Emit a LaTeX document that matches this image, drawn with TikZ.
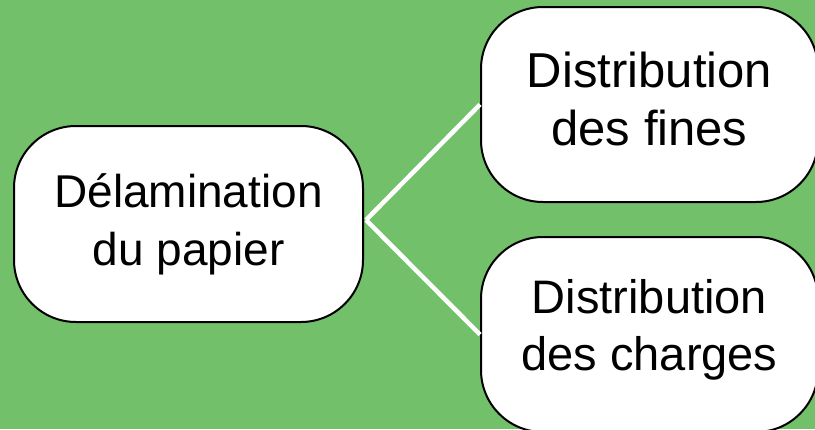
\documentclass[tikz,border=0pt]{standalone}
\usepackage{fontspec}
\setmainfont{Liberation Sans}
\definecolor{bggreen}{RGB}{115,192,106}
\begin{document}
\begin{tikzpicture}[x=1pt,y=-1pt,
  topic/.style={draw=black, line width=2pt, fill=white, rounded corners=62pt,
    inner sep=0pt, align=center},
  link/.style={draw=white, line width=4.5pt}]
\fill[bggreen] (0,0) rectangle (815,429);
\useasboundingbox (0,0) rectangle (815,429);
\node[topic, minimum width=349pt, minimum height=196pt, font=\fontsize{46}{58}\selectfont] (L) at (188.5,224) {Délamination\\du papier};
\node[topic, minimum width=337pt, minimum height=195pt, text depth=12pt, font=\fontsize{49}{58}\selectfont] (T) at (649.5,104.5) {Distribution\\des fines};
\node[topic, minimum width=337pt, minimum height=195pt, text depth=20pt, font=\fontsize{47}{57}\selectfont] (B) at (649.5,334.5) {Distribution\\des charges};
\draw[link] ([yshift=4pt,xshift=2pt]L.east) -- (T.west);
\draw[link] ([yshift=4pt,xshift=2pt]L.east) -- (B.west);
\end{tikzpicture}
\end{document}
